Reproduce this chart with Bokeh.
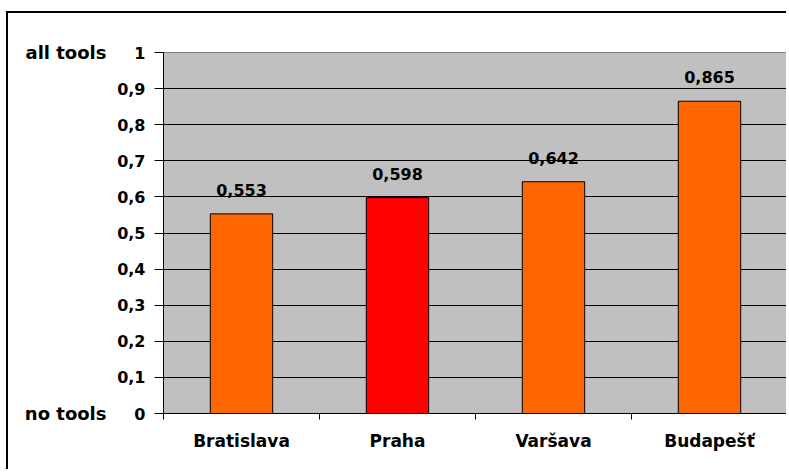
from bokeh.plotting import figure
from bokeh.models import (ColumnDataSource, FixedTicker, LinearAxis, Range1d,
                          LabelSet)
from bokeh.core.properties import value
from bokeh.embed import file_html
from bokeh.resources import INLINE

cities = ["Bratislava", "Praha", "Varšava", "Budapešť"]
values = [0.553, 0.598, 0.642, 0.865]
bar_colors = ["#FF6600", "#FF0000", "#FF6600", "#FF6600"]
y_ticks = [0, 0.1, 0.2, 0.3, 0.4, 0.5, 0.6, 0.7, 0.8, 0.9, 1]
y_tick_labels = ["0", "0,1", "0,2", "0,3", "0,4", "0,5", "0,6", "0,7", "0,8", "0,9", "1"]
end_labels = {0: "no tools", 1: "all tools"}

FONT = "DejaVu Sans"
FS = "16px"

centers = [i + 0.5 for i in range(len(cities))]
bounds = [i for i in range(len(cities) + 1)]

src = ColumnDataSource(dict(
    x=centers, top=values, color=bar_colors,
    label=[f"{v:.3f}".replace(".", ",") for v in values],
))

p = figure(width=780, height=458, output_backend="svg", toolbar_location=None,
           x_range=Range1d(0, len(cities)), y_range=Range1d(0, 1),
           min_border_left=155, min_border_right=1, min_border_top=39,
           min_border_bottom=58)
p.styles = {"margin-top": "11px", "margin-left": "6px",
            "border-top": "2px solid black", "border-left": "2px solid black"}

p.background_fill_color = "#C0C0C0"
p.border_fill_color = "white"
p.outline_line_color = "#808080"
p.outline_line_width = 1

p.vbar(x="x", top="top", width=0.4, source=src, fill_color="color",
       line_color="black", line_width=1)

labels = LabelSet(x="x", y="top", text="label", source=src, y_offset=18,
                  text_align="center", text_baseline="alphabetic",
                  text_font=value(FONT), text_font_size=value(FS),
                  text_font_style="bold", text_color="black")
p.add_layout(labels)

# grid
p.xgrid.visible = False
p.ygrid.ticker = FixedTicker(ticks=y_ticks[1:-1])
p.ygrid.grid_line_color = "black"
p.ygrid.grid_line_width = 1

# y axis
ya = p.yaxis[0]
ya.ticker = FixedTicker(ticks=y_ticks)
ya.major_label_overrides = {t: l for t, l in zip(y_ticks, y_tick_labels)}
ya.axis_line_color = "black"
ya.major_tick_line_color = "black"
ya.major_tick_out = 9
ya.major_tick_in = 0
ya.minor_tick_line_color = None
ya.major_label_standoff = 9
ya.major_label_text_font = FONT
ya.major_label_text_font_size = FS
ya.major_label_text_font_style = "bold"
ya.major_label_text_color = "black"

ya2 = LinearAxis(ticker=FixedTicker(ticks=list(end_labels.keys())),
                 major_label_overrides=end_labels)
ya2.axis_line_color = None
ya2.major_tick_line_color = None
ya2.minor_tick_line_color = None
ya2.major_label_standoff = 2
ya2.major_label_text_font = FONT
ya2.major_label_text_font_size = "18px"
ya2.major_label_text_font_style = "bold"
ya2.major_label_text_color = "black"
p.add_layout(ya2, "left")

# x axis
xa = p.xaxis[0]
xa.ticker = FixedTicker(ticks=centers, minor_ticks=bounds)
xa.major_label_overrides = {c: n for c, n in zip(centers, cities)}
xa.axis_line_color = "black"
xa.major_tick_line_color = None
xa.major_tick_out = 6
xa.major_tick_in = 0
xa.minor_tick_line_color = "black"
xa.minor_tick_out = 6
xa.minor_tick_in = 0
xa.major_label_standoff = 11
xa.major_label_text_font = FONT
xa.major_label_text_font_size = "17px"
xa.major_label_text_font_style = "bold"
xa.major_label_text_color = "black"

open("out.html", "w").write(file_html(p, INLINE))
